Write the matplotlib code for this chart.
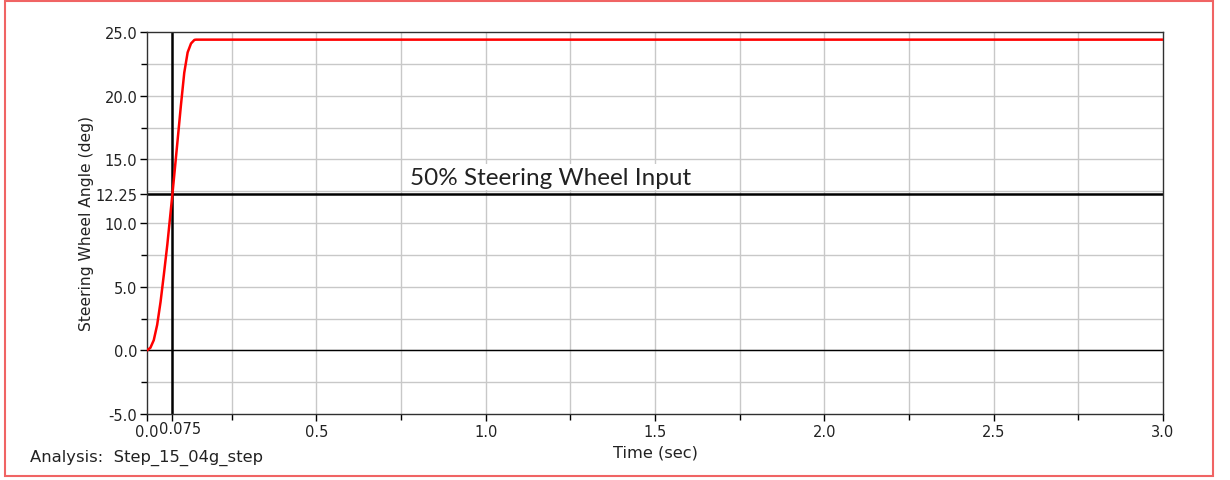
import matplotlib.pyplot as plt
import matplotlib
from matplotlib.patches import Rectangle
from matplotlib.transforms import ScaledTranslation, blended_transform_factory

matplotlib.rcParams['font.family'] = ['DejaVu Sans']

# steering wheel angle step input
time_s = [0.0, 0.01, 0.02, 0.03, 0.04, 0.05, 0.06, 0.075, 0.09, 0.10, 0.11, 0.12, 0.13, 0.14, 0.145, 3.0]
angle_deg = [0.0, 0.2, 0.8, 2.0, 3.8, 6.0, 8.3, 12.25, 16.4, 19.2, 21.8, 23.4, 24.1, 24.38, 24.4, 24.4]

x_ticks = [0.0, 0.075, 0.5, 1.0, 1.5, 2.0, 2.5, 3.0]
x_labels = ['0.0', '', '0.5', '1.0', '1.5', '2.0', '2.5', '3.0']
y_ticks = [-5.0, 0.0, 5.0, 10.0, 12.25, 15.0, 20.0, 25.0]
y_labels = ['-5.0', '0.0', '5.0', '10.0', '12.25', '15.0', '20.0', '25.0']
x_grid = [0.25 * i for i in range(1, 12)]
y_grid = [-2.5 + 2.5 * i for i in range(0, 11)]

half_input = 12.25
half_time = 0.075

fig = plt.figure(figsize=(12.3, 4.81), dpi=100)
ax = fig.add_axes([147 / 1230, 66 / 481, 1016 / 1230, 382 / 481])

for gx in x_grid:
    ax.axvline(gx, color='#c8c8c8', lw=1, zorder=0)
for gy in y_grid:
    ax.axhline(gy, color='#c8c8c8', lw=1, zorder=0)

ax.axhline(0, color='black', lw=1, zorder=1)
ax.axhline(half_input, color='black', lw=1.8, zorder=2)
ax.axvline(half_time, color='black', lw=1.8, zorder=2)

ax.plot(time_s, angle_deg, color='#ff0000', lw=1.8, zorder=3)

ax.text(0.777, 13.6, '50% Steering Wheel Input', family=['Lato', 'DejaVu Sans'],
        fontsize=17.5, color='#222222', va='center', ha='left', zorder=4,
        bbox=dict(facecolor='white', edgecolor='none', pad=2))

ax.set_xlim(0, 3.0)
ax.set_ylim(-5, 25)
ax.set_xticks(x_ticks)
ax.set_xticklabels(x_labels)
ax.set_yticks(y_ticks)
ax.set_yticklabels(y_labels)
ax.set_xticks([0.25 * i for i in range(1, 12, 2)], minor=True)
ax.set_yticks([-2.5, 2.5, 7.5, 17.5, 22.5], minor=True)
ax.tick_params(axis='both', which='major', length=5, width=1, labelsize=10.5, color='black', labelcolor='#222222')
ax.tick_params(axis='both', which='minor', length=4, width=1, color='black')
ax.tick_params(axis='x', pad=2)
ax.tick_params(axis='y', pad=2)

# the 0.075 tick label sits right after "0.0"
trans = blended_transform_factory(ax.transData, ax.transAxes) + ScaledTranslation(-13 / 100, -7 / 100, fig.dpi_scale_trans)
ax.text(half_time, 0, '0.075', transform=trans, ha='left', va='top', fontsize=10.5, color='#222222')

for side in ['top', 'bottom', 'left', 'right']:
    ax.spines[side].set_color('#303030')
    ax.spines[side].set_linewidth(1)

ax.set_ylabel('Steering Wheel Angle (deg)', fontsize=11.2, color='#222222', labelpad=1)
ax.set_xlabel('Time (sec)', fontsize=11.7, color='#222222', labelpad=4)
fig.text(30 / 1230, 1 - 458 / 481, 'Analysis:  Step_15_04g_step', fontsize=11.8, color='#222222', va='center', ha='left')

fig.add_artist(Rectangle((5 / 1230, 4 / 481), 1208 / 1230, 475 / 481, transform=fig.transFigure,
                         fill=False, edgecolor='#f06464', lw=1.5))

plt.savefig('out.png', dpi=100, facecolor='white')
plt.close()
